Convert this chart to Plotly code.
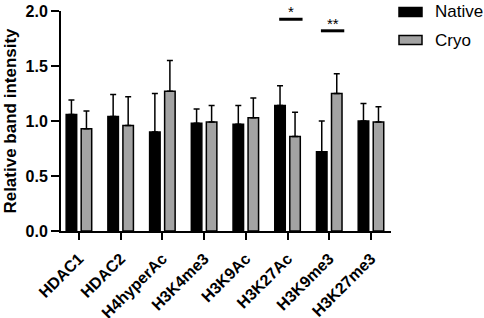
import plotly.graph_objects as go

categories = ["HDAC1", "HDAC2", "H4hyperAc", "H3K4me3", "H3K9Ac", "H3K27Ac", "H3K9me3", "H3K27me3"]
native_mean = [1.06, 1.04, 0.90, 0.98, 0.97, 1.14, 0.72, 1.00]
native_err = [0.13, 0.20, 0.35, 0.13, 0.17, 0.18, 0.28, 0.16]
cryo_mean = [0.93, 0.96, 1.27, 0.99, 1.03, 0.86, 1.25, 0.99]
cryo_err = [0.16, 0.26, 0.28, 0.15, 0.18, 0.22, 0.18, 0.14]
sig_labels = ["*", "**"]
sig_categories = ["H3K27Ac", "H3K9me3"]
sig_heights = [1.925, 1.82]
y_ticks = [0, 0.5, 1.0, 1.5, 2.0]

FONT = "Arial, Liberation Sans, sans-serif"

fig = go.Figure()
fig.add_trace(go.Bar(
    x=categories, y=native_mean, name="Native",
    marker=dict(color="black", line=dict(color="black", width=1.5)),
    error_y=dict(type="data", array=native_err, symmetric=False,
                 arrayminus=[0] * len(native_err), color="black", thickness=1.5, width=3),
))
fig.add_trace(go.Bar(
    x=categories, y=cryo_mean, name="Cryo",
    marker=dict(color="#a3a3a3", line=dict(color="black", width=1.5)),
    error_y=dict(type="data", array=cryo_err, symmetric=False,
                 arrayminus=[0] * len(cryo_err), color="black", thickness=1.5, width=3),
))

shapes = []
annotations = []
for lab, cat, h in zip(sig_labels, sig_categories, sig_heights):
    i = categories.index(cat)
    c = i + 0.08
    shapes.append(dict(type="line", xref="x", yref="y", x0=c - 0.28, x1=c + 0.28,
                       y0=h, y1=h, line=dict(color="black", width=3)))
    annotations.append(dict(x=c, y=h, xref="x", yref="y", text=lab, showarrow=False,
                            yanchor="bottom", yshift=-3,
                            font=dict(family=FONT, size=15, color="black")))

# legend drawn manually (paper coords)
leg = [("Native", "black"), ("Cryo", "#a3a3a3")]
W, H = 484, 318
L, R, T, B = 61, 93, 11, 87
pw, ph = W - L - R, H - T - B
def px(xp):
    return (xp - L) / pw
def py(yp):
    return (H - B - yp) / ph
for k, (name, col) in enumerate(leg):
    yc = 12 + 28 * k
    shapes.append(dict(type="rect", xref="paper", yref="paper",
                       x0=px(399), x1=px(422), y0=py(yc - 4.5), y1=py(yc + 4.5),
                       fillcolor=col, line=dict(color="black", width=1.5)))
    annotations.append(dict(x=px(433), y=py(yc), xref="paper", yref="paper", text=name,
                            showarrow=False, xanchor="left", yanchor="middle",
                            font=dict(family=FONT, size=17, color="black")))

fig.update_layout(
    width=W, height=H,
    margin=dict(l=L, r=R, t=T, b=B, autoexpand=False),
    paper_bgcolor="white", plot_bgcolor="white",
    barmode="group", bargap=0.28, bargroupgap=0.3,
    showlegend=False,
    shapes=shapes, annotations=annotations,
    font=dict(family=FONT, color="black"),
)
fig.update_xaxes(
    range=[-0.43, 7.48], showline=True, linecolor="black", linewidth=2,
    ticks="outside", ticklen=7, tickwidth=2, tickcolor="black",
    tickangle=-45, ticklabelstandoff=3,
    tickfont=dict(family=FONT, size=16, color="black", weight="bold"),
    showgrid=False, zeroline=False,
)
fig.update_yaxes(
    range=[0, 2], tickvals=y_ticks, ticktext=[f"{v:.1f}" for v in y_ticks],
    showline=True, linecolor="black", linewidth=2,
    ticks="outside", ticklen=8, tickwidth=2, tickcolor="black",
    tickfont=dict(family=FONT, size=16, color="black", weight="bold"),
    title=dict(text="Relative band intensity", standoff=5,
               font=dict(family=FONT, size=17, color="black", weight="bold")),
    showgrid=False, zeroline=False,
)

fig.write_html("out.html", config={"displayModeBar": False},
               post_script="document.body.style.margin='0';document.body.style.padding='0';")
